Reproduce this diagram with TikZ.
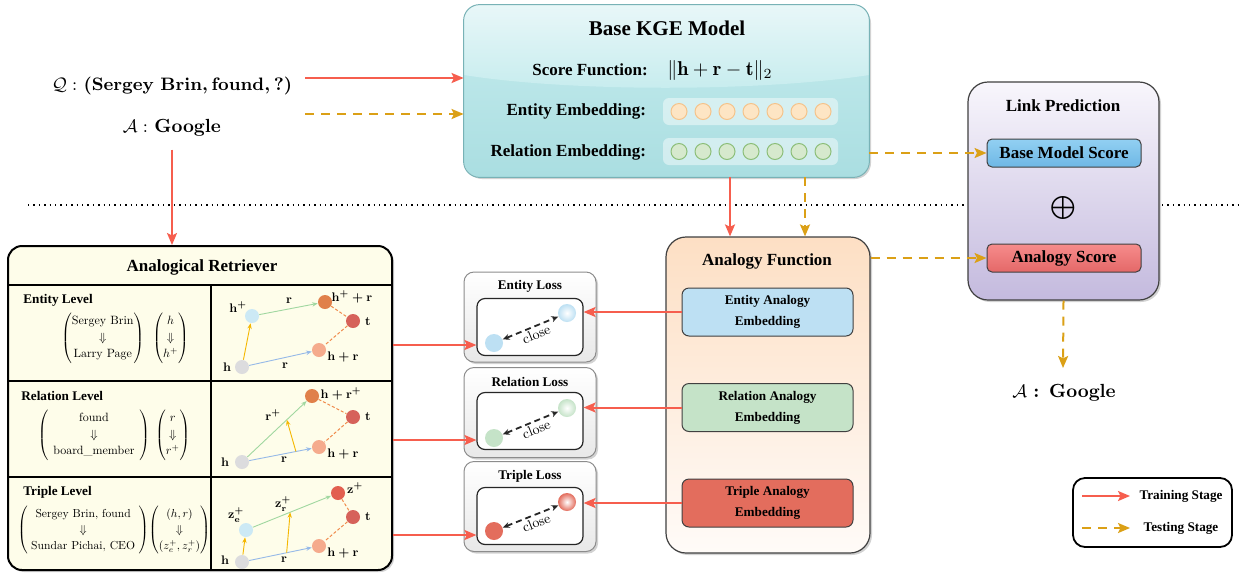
\documentclass[tikz,border=0pt]{standalone}
\usepackage{amsmath,amssymb}
\usepackage{graphicx}
\usepackage{fontspec}
\newfontfamily\tmsfont{Liberation Serif}
\usetikzlibrary{shadows,arrows.meta,calc}
\definecolor{redA}{RGB}{246,94,78}
\definecolor{orA}{RGB}{219,160,22}
\definecolor{kgeT}{RGB}{232,247,248}
\definecolor{kgeM}{RGB}{198,236,238}
\definecolor{kgeB}{RGB}{170,222,225}
\definecolor{kgeD}{RGB}{120,178,182}
\definecolor{lpT}{RGB}{248,246,252}
\definecolor{lpB}{RGB}{196,186,222}
\definecolor{afT}{RGB}{253,223,196}
\definecolor{afB}{RGB}{255,251,248}
\definecolor{retF}{RGB}{254,253,234}
\definecolor{entB}{RGB}{189,224,243}
\definecolor{relG}{RGB}{197,227,200}
\definecolor{triR}{RGB}{227,109,93}
\definecolor{embE}{RGB}{253,229,196}
\definecolor{embEd}{RGB}{245,195,138}
\definecolor{embR}{RGB}{214,233,205}
\definecolor{embRd}{RGB}{140,190,120}
\definecolor{gGray}{RGB}{220,220,222}
\definecolor{gBlue}{RGB}{204,233,245}
\definecolor{gOrg}{RGB}{224,128,74}
\definecolor{gRed}{RGB}{214,98,90}
\definecolor{gSal}{RGB}{245,171,141}
\definecolor{gZ}{RGB}{226,95,80}
\definecolor{aYel}{RGB}{245,183,0}
\definecolor{aGrn}{RGB}{160,215,160}
\definecolor{aBlu}{RGB}{150,185,232}
\definecolor{aOrg}{RGB}{240,138,75}
\definecolor{bmsT}{RGB}{146,208,242}
\definecolor{bmsB}{RGB}{110,183,229}
\definecolor{asT}{RGB}{246,140,140}
\definecolor{asB}{RGB}{228,104,104}
\newcommand\myBig{\tmsfont\bfseries\fontsize{10.5}{12}\selectfont}
\newcommand\myMid{\tmsfont\bfseries\fontsize{8.5}{10}\selectfont}
\newcommand\mySmall{\tmsfont\bfseries\fontsize{6.6}{10.5}\selectfont}
\newcommand\glab[1]{\scalebox{0.62}{\boldmath$#1$}}
\newcommand\mymat[2][0.6]{\scalebox{#1}{\renewcommand\arraystretch{1.15}$#2$}}
\begin{document}
\begin{tikzpicture}[x=0.5pt,y=-0.5pt,
  redarr/.style={draw=redA, line width=1pt, -{Stealth[length=6pt,width=5pt,inset=1.2pt]}},
  orarr/.style={draw=orA, line width=1pt, dash pattern=on 4.5pt off 3.5pt, -{Stealth[length=6pt,width=5pt,inset=1.2pt]}},
  garr/.style={line width=0.45pt, -{Stealth[length=2.8pt,width=2.2pt]}},
  gdash/.style={line width=0.5pt, draw=aOrg, dash pattern=on 1.5pt off 1pt},
  gc/.style={circle, minimum size=7pt, inner sep=0pt},
  gl/.style={inner sep=0.5pt},
  shd/.style={drop shadow={shadow xshift=1pt, shadow yshift=-1pt, opacity=0.35}},
  lossout/.style={rounded corners=5pt, draw=black!45, line width=0.5pt, top color=white, bottom color=black!9, minimum width=66pt, minimum height=45pt, inner sep=0pt, shd},
  lossin/.style={rounded corners=4pt, draw=black!85, line width=0.6pt, fill=white, minimum width=53pt, minimum height=28.5pt, inner sep=0pt},
  embbox/.style={rounded corners=3.5pt, draw=black!75, line width=0.5pt, minimum width=85.5pt, minimum height=24pt, inner sep=0pt, align=center, font=\mySmall},
  scorebox/.style={rounded corners=2.5pt, draw=black!75, line width=0.5pt, minimum width=77pt, minimum height=14pt, inner sep=0pt, font=\myMid},
  pill/.style={rounded corners=3pt, fill=white, fill opacity=0.45, minimum width=87.5pt, minimum height=13.5pt, inner sep=0pt},
  closearr/.style={line width=0.9pt, draw=black!85, dash pattern=on 3pt off 2pt, {Stealth[length=3.5pt,width=3pt]}-{Stealth[length=3.5pt,width=3pt]}},
  closelab/.style={pos=0.55, sloped, below, inner sep=1pt},
]
\useasboundingbox (0,0) rectangle (1241,574);
\fill[white] (0,0) rectangle (1241,574);

% dotted separator
\draw[dotted, line width=0.7pt] (28,205) -- (1241,205);

% ---------------- Base KGE model
\node[rounded corners=8pt, minimum width=202.5pt, minimum height=86pt, inner sep=0pt,
      top color=kgeM, bottom color=kgeB, shd] (kge) at (666.5,91) {};
\begin{scope}
  \clip[rounded corners=8pt] (kge.north west) rectangle (kge.south east);
  \shade[top color=kgeT, bottom color=kgeM] (464,5) -- (869,5) -- (869,75)
     .. controls (760,92) and (570,92) .. (464,75) -- cycle;
\end{scope}
\draw[rounded corners=8pt, draw=kgeD, line width=0.5pt] (kge.north west) rectangle (kge.south east);
\node[font=\myBig] (kgetitle) at (667,28) {Base KGE Model};
\node[font=\myMid] (sflab) at (590,70) {Score Function:};
\node[font=\fontsize{10}{12}\selectfont] (sf) at (720,70) {$\|\mathbf{h}+\mathbf{r}-\mathbf{t}\|_2$};
\node[font=\myMid, anchor=east] (eelab) at (653,111) {Entity Embedding:};
\node[font=\myMid, anchor=east] (relab) at (653,152) {Relation Embedding:};
\node[pill] (epill) at (750.5,111.5) {};
\node[pill] (rpill) at (750.5,151.5) {};
\foreach \i in {0,...,6}{
  \node[circle, minimum size=8pt, inner sep=0pt, fill=embE, draw=embEd, line width=0.5pt] (ec\i) at ({679+24*\i},111.5) {};
  \node[circle, minimum size=8pt, inner sep=0pt, fill=embR, draw=embRd, line width=0.5pt] (rc\i) at ({679+24*\i},151.5) {};
}

% ---------------- Link prediction
\node[rounded corners=10pt, minimum width=95.5pt, minimum height=109pt, inner sep=0pt,
      top color=lpT, bottom color=lpB, draw=black!75, line width=0.6pt, shd] (lp) at (1063.5,191) {};
\node[font=\myMid] (lptitle) at (1063,106) {Link Prediction};
\node[scorebox, top color=bmsT, bottom color=bmsB] (bms) at (1064,153) {Base Model Score};
\node[font=\fontsize{11.5}{13}\selectfont, inner sep=0pt] (plus) at (1063,208) {$\bigoplus$};
\node[scorebox, top color=asT, bottom color=asB] (as) at (1064,258) {Analogy Score};

% ---------------- Analogy function
\node[rounded corners=10pt, minimum width=102pt, minimum height=158pt, inner sep=0pt,
      top color=afT, bottom color=afB, draw=black!75, line width=0.6pt, shd] (af) at (768,395) {};
\node[font=\myMid] (aftitle) at (767,261) {Analogy Function};
\node[embbox, fill=entB] (eae) at (767.5,312) {Entity Analogy\\Embedding};
\node[embbox, fill=relG] (rae) at (767.5,407.5) {Relation Analogy\\Embedding};
\node[embbox, fill=triR] (tae) at (767.5,503) {Triple Analogy\\Embedding};

% ---------------- Analogical retriever
\node[rounded corners=7pt, minimum width=192pt, minimum height=162pt, inner sep=0pt,
      fill=retF, draw=black, line width=1pt, shd] (ret) at (200,408) {};
\draw[line width=0.6pt] (8.5,285) -- (391.5,285);
\draw[line width=0.6pt] (8.5,381) -- (391.5,381);
\draw[line width=0.6pt] (8.5,477) -- (391.5,477);
\draw[line width=0.6pt] (211,285) -- (211,569.5);
\node[font=\myMid] (rettitle) at (202,267) {Analogical Retriever};
\node[font=\mySmall, anchor=west, inner sep=0pt] (lvE) at (23,300) {Entity Level};
\node[font=\mySmall, anchor=west, inner sep=0pt] (lvR) at (21,396) {Relation Level};
\node[font=\mySmall, anchor=west, inner sep=0pt] (lvT) at (23,492) {Triple Level};
\node[inner sep=0pt] (matE) at (125,338) {\mymat{\begin{pmatrix}\text{Sergey Brin}\\ \Downarrow\\ \text{Larry Page}\end{pmatrix}\;\;\begin{pmatrix}h\\ \Downarrow\\ h^{+}\end{pmatrix}}};
\node[inner sep=0pt] (matR) at (114,435) {\mymat{\begin{pmatrix}\hspace{4pt}\text{found}\hspace{4pt}\\ \Downarrow\\ \hspace{4pt}\text{board\_member}\hspace{4pt}\end{pmatrix}\;\begin{pmatrix}r\\ \Downarrow\\ r^{+}\end{pmatrix}}};
\node[inner sep=0pt] (matT) at (114,530) {\mymat[0.58]{\begin{pmatrix}\hspace{3pt}\text{Sergey Brin, found}\hspace{3pt}\\ \Downarrow\\ \hspace{3pt}\text{Sundar Pichai, CEO}\hspace{3pt}\end{pmatrix}\!\begin{pmatrix}(h,r)\\ \Downarrow\\ (z_e^{+},z_r^{+})\end{pmatrix}}};

% entity graph
\node[gc, fill=gGray] (eh) at (242,367) {};
\node[gc, fill=gBlue] (ehp) at (252,316) {};
\node[gc, fill=gOrg] (ehpr) at (325,302) {};
\node[gc, fill=gRed] (et) at (353,321) {};
\node[gc, fill=gSal] (ehr) at (319,350) {};
\draw[garr, aYel] (eh) -- (ehp);
\draw[garr, aGrn] (ehp) -- (ehpr);
\draw[garr, aBlu] (eh) -- (ehr);
\draw[gdash] (ehpr) -- (et);
\draw[gdash] (et) -- (ehr);
\node[gl] (lE1) at (238,307) {\glab{\mathbf{h}^{+}}};
\node[gl] (lE2) at (289,301) {\glab{\mathbf{r}}};
\node[gl] (lE3) at (352,297) {\glab{\mathbf{h}^{+}+\mathbf{r}}};
\node[gl] (lE4) at (368,322) {\glab{\mathbf{t}}};
\node[gl] (lE5) at (343,357) {\glab{\mathbf{h}+\mathbf{r}}};
\node[gl] (lE6) at (285,366) {\glab{\mathbf{r}}};
\node[gl] (lE7) at (227,367) {\glab{\mathbf{h}}};

% relation graph
\node[gc, fill=gGray] (rh) at (242,462) {};
\node[gc, fill=gOrg] (rhrp) at (312,396) {};
\node[gc, fill=gRed] (rt) at (353,417) {};
\node[gc, fill=gSal] (rhr) at (319,447) {};
\draw[garr, aGrn] (rh) -- (rhrp);
\draw[garr, aBlu] (rh) -- (rhr);
\coordinate (ry1) at ($(rh)!0.7!(rhr)$);
\coordinate (ry2) at ($(rh)!0.64!(rhrp)$);
\draw[garr, aYel] (ry1) -- (ry2);
\draw[gdash] (rhrp) -- (rt);
\draw[gdash] (rt) -- (rhr);
\node[gl] (lR1) at (341,394) {\glab{\mathbf{h}+\mathbf{r}^{+}}};
\node[gl] (lR2) at (273,415) {\glab{\mathbf{r}^{+}}};
\node[gl] (lR3) at (368,417) {\glab{\mathbf{t}}};
\node[gl] (lR4) at (343,454) {\glab{\mathbf{h}+\mathbf{r}}};
\node[gl] (lR5) at (284,460) {\glab{\mathbf{r}}};
\node[gl] (lR6) at (225,462) {\glab{\mathbf{h}}};

% triple graph
\node[gc, fill=gGray] (th) at (242,562) {};
\node[gc, fill=gBlue] (tze) at (246,530) {};
\node[gc, fill=gZ] (tz) at (338,493) {};
\node[gc, fill=gRed] (tt) at (353,517) {};
\node[gc, fill=gSal] (thr) at (319,546) {};
\draw[garr, aYel] (th) -- (tze);
\draw[garr, aGrn] (tze) -- (tz);
\draw[garr, aBlu] (th) -- (thr);
\coordinate (ty1) at ($(th)!0.58!(thr)$);
\coordinate (ty2) at ($(tze)!0.48!(tz)$);
\draw[garr, aYel] (ty1) -- (ty2);
\draw[gdash] (tz) -- (tt);
\draw[gdash] (tt) -- (thr);
\node[gl] (lT1) at (236,515) {\glab{\mathbf{z}_{\mathbf{e}}^{+}}};
\node[gl] (lT2) at (283,504) {\glab{\mathbf{z}_{\mathbf{r}}^{+}}};
\node[gl] (lT3) at (355,488) {\glab{\mathbf{z}^{+}}};
\node[gl] (lT4) at (368,517) {\glab{\mathbf{t}}};
\node[gl] (lT5) at (343,553) {\glab{\mathbf{h}+\mathbf{r}}};
\node[gl] (lT6) at (284,560) {\glab{\mathbf{r}}};
\node[gl] (lT7) at (225,560) {\glab{\mathbf{h}}};

% ---------------- Loss boxes
\node[lossout] (el) at (530,317) {};
\node[font=\mySmall] (elt) at (530,286) {Entity Loss};
\node[lossin] (eli) at (530,327) {};
\node[circle, minimum size=9pt, inner sep=0pt, inner color=white, outer color=entB] (elc1) at (567,313) {};
\node[circle, minimum size=9pt, inner sep=0pt, fill=entB] (elc2) at (494,343) {};
\draw[closearr] (elc2) -- (elc1) node[closelab] (elcl) {\scalebox{0.7}{close}};

\node[lossout] (rl) at (530,412.5) {};
\node[font=\mySmall] (rlt) at (530,382) {Relation Loss};
\node[lossin] (rli) at (530,421) {};
\node[circle, minimum size=9pt, inner sep=0pt, inner color=white, outer color=relG] (rlc1) at (567,408) {};
\node[circle, minimum size=9pt, inner sep=0pt, fill=relG] (rlc2) at (494,438) {};
\draw[closearr] (rlc2) -- (rlc1) node[closelab] (rlcl) {\scalebox{0.7}{close}};

\node[lossout] (tl) at (530,506.5) {};
\node[font=\mySmall] (tlt) at (530,476) {Triple Loss};
\node[lossin] (tli) at (530,516) {};
\node[circle, minimum size=9pt, inner sep=0pt, inner color=white, outer color=triR] (tlc1) at (567,502) {};
\node[circle, minimum size=9pt, inner sep=0pt, fill=triR] (tlc2) at (494,531) {};
\draw[closearr] (tlc2) -- (tlc1) node[closelab] (tlcl) {\scalebox{0.7}{close}};

% ---------------- query and answers
\node[font=\fontsize{9.5}{11}\selectfont] (q) at (172,86) {$\mathcal{Q}:$ {\boldmath$(\mathbf{Sergey\ Brin},\mathbf{found},\mathbf{?})$}};
\node[font=\fontsize{9.5}{11}\selectfont] (ans) at (172,128) {$\mathcal{A}:$\ \textbf{Google}};
\node[font=\fontsize{9.5}{11}\selectfont] (ans2) at (1064,393) {$\mathcal{A}$ \textbf{: Google}};
\coordinate (qs) at (305,78);
\coordinate (qd) at (305,114);
\coordinate (kx1) at (730,0);
\coordinate (kx2) at (805,0);
\coordinate (ans2top) at (1063,368);

% ---------------- connectors
\draw[redarr] (qs) -- (qs -| kge.west);
\draw[orarr] (qd) -- (qd -| kge.west);
\draw[redarr, shorten <=3pt] (ans.south) -- (ans.south |- ret.north);
\draw[redarr] (kx1 |- kge.south) -- (kx1 |- af.north);
\draw[orarr] (kx2 |- kge.south) -- (kx2 |- af.north);
\draw[orarr] (kge.east |- bms.west) -- (bms.west);
\draw[orarr] (af.east |- as.west) -- (as.west);
\draw[orarr] (lp.south) -- (ans2top);
\draw[redarr] (eae.west) -- (eae.west -| eli.east);
\draw[redarr] (rae.west) -- (rae.west -| rli.east);
\draw[redarr] (tae.west) -- (tae.west -| tli.east);
\coordinate (re1) at ($(eli.west)+(0,18)$);
\coordinate (re2) at ($(rli.west)+(0,19)$);
\coordinate (re3) at ($(tli.west)+(0,19)$);
\draw[redarr] (re1 -| ret.east) -- (re1);
\draw[redarr] (re2 -| ret.east) -- (re2);
\draw[redarr] (re3 -| ret.east) -- (re3);

% ---------------- legend
\node[rounded corners=6pt, minimum width=79.5pt, minimum height=34.5pt, inner sep=0pt, draw=black, line width=0.9pt, fill=white] (leg) at (1152.5,512.5) {};
\coordinate (l1a) at (1082,496);
\coordinate (l1b) at (1130,496);
\coordinate (l2a) at (1082,528);
\coordinate (l2b) at (1130,528);
\draw[redarr] (l1a) -- (l1b);
\draw[orarr] (l2a) -- (l2b);
\node[font=\mySmall] (legt1) at (1181,496) {Training Stage};
\node[font=\mySmall] (legt2) at (1181,528) {Testing Stage};
\end{tikzpicture}
\end{document}
